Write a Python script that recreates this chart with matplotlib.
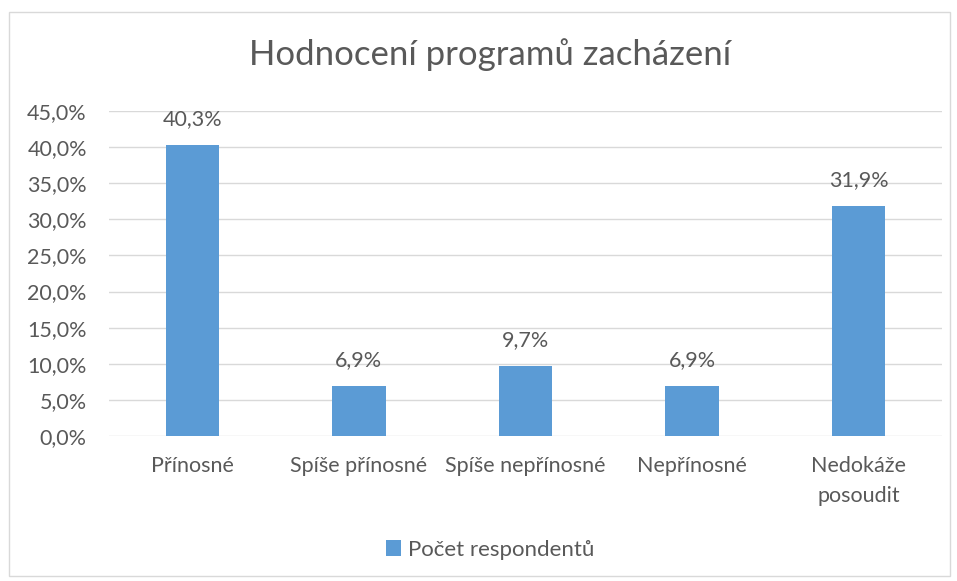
import matplotlib.pyplot as plt
from matplotlib.patches import Rectangle
from matplotlib.ticker import FuncFormatter

kategorie = ["Přínosné", "Spíše přínosné", "Spíše nepřínosné", "Nepřínosné", "Nedokáže\nposoudit"]
hodnoty = [40.3, 6.9, 9.7, 6.9, 31.9]
popisky = ["40,3%", "6,9%", "9,7%", "6,9%", "31,9%"]

plt.rcParams['font.family'] = ['Lato', 'DejaVu Sans']
sedy = "#595959"
modra = "#5B9BD5"

fig = plt.figure(figsize=(9.57, 5.81), dpi=100)
fig.patches.append(Rectangle((9/957, 1-576/581), 941/957, 564/581, transform=fig.transFigure,
                             fill=False, edgecolor="#D9D9D9", linewidth=1))

ax = fig.add_axes([109/957, 1-436/581, 833/957, 325/581])
x = range(len(kategorie))
bars = ax.bar(x, hodnoty, width=0.32, color=modra, label="Počet respondentů", zorder=3)
for i, (v, t) in enumerate(zip(hodnoty, popisky)):
    ax.text(i, v + 2.2, t, ha="center", va="bottom", fontsize=15.5, color=sedy)

ax.set_xlim(-0.5, 4.5)
ax.set_ylim(0, 45)
ax.set_yticks(range(0, 50, 5))
ax.yaxis.set_major_formatter(FuncFormatter(lambda v, p: f"{v:.1f}%".replace(".", ",")))
ax.set_xticks(list(x))
ax.set_xticklabels(kategorie, fontsize=15.5, color=sedy, va="top", linespacing=1.6)
ax.tick_params(axis="y", labelsize=15.5, labelcolor=sedy, length=0, pad=16)
ax.tick_params(axis="x", length=0, pad=14.5)
ax.grid(axis="y", color="#D9D9D9", linewidth=1, zorder=0)
for s in ax.spines.values():
    s.set_visible(False)

fig.text(490/957, 1-55/581, "Hodnocení programů zacházení", ha="center", va="center",
         fontsize=25, color=sedy)
fig.legend(loc="center", bbox_to_anchor=(490/957, 1-550/581), frameon=False, fontsize=16,
           labelcolor=sedy, handlelength=0.7, handleheight=0.7, handletextpad=0.3)

fig.savefig("out.png", dpi=100)
